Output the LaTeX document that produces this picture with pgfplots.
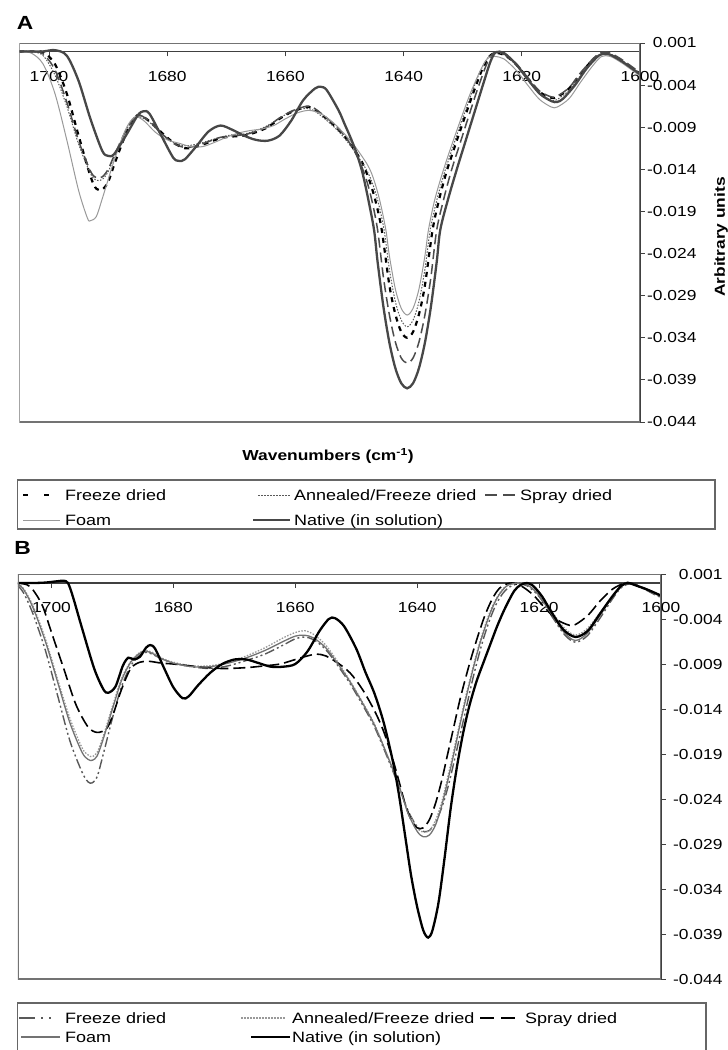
\documentclass[border=0pt]{standalone}
\usepackage{fontspec}
\setmainfont[FakeStretch=1.2]{Liberation Sans}
\usepackage{pgfplots}
\pgfplotsset{compat=1.18}
\tikzset{
 aFD/.style={black, line width=2.2pt, dash pattern=on 5pt off 5pt},
 aAN/.style={black!65, line width=1pt, dash pattern=on 1.5pt off 1.5pt},
 aSD/.style={black!70, line width=1.5pt, dash pattern=on 10pt off 5pt},
 aFO/.style={black!40, line width=1pt},
 aNA/.style={black!72, line width=2.3pt},
 bFD/.style={black!65, line width=1.4pt, dash pattern=on 10pt off 3pt on 2pt off 3pt on 2pt off 3pt},
 bAN/.style={black!40, line width=1.3pt, dash pattern=on 1.5pt off 1.5pt},
 bSD/.style={black, line width=1.6pt, dash pattern=on 12pt off 5pt},
 bFO/.style={black!55, line width=1.3pt},
 bNA/.style={black, line width=2.3pt},
 lgtext/.style={anchor=base west, inner sep=0pt, yshift=-5.3pt, font=\fontsize{15}{17}\selectfont},
}
\pgfplotsset{
 panel/.style={
   scale only axis, x dir=reverse,
   ymin=-0.044, ymax=0.001,
   axis x line*=middle, axis y line*=right,
   axis line style={black!75, line width=1.2pt},
   ytick={-0.044,-0.039,-0.034,-0.029,-0.024,-0.019,-0.014,-0.009,-0.004,0.001},
   xtick={1600,1620,1640,1660,1680,1700},
   scaled y ticks=false, scaled x ticks=false,
   hide obscured x ticks=false,
   /pgf/number format/assume math mode=true,
   /pgf/number format/1000 sep={},
   tick style={black!75, line width=1pt},
   major tick length=5pt,
   ytick align=outside,
   xtick align=outside,
   tick label style={font=\fontsize{14.5}{16}\selectfont, black},
   yticklabel style={/pgf/number format/fixed, /pgf/number format/fixed zerofill, /pgf/number format/precision=3},
   xticklabel style={yshift=-11pt},
   clip=true,
   every axis plot/.append style={smooth, tension=0.5},
 }
}
\begin{document}
\begin{tikzpicture}
\path[use as bounding box] (0pt,0pt) rectangle (728pt,-1050pt);

% ---------------- Panel A ----------------
\node[font=\fontsize{19}{21}\selectfont\bfseries] at (25pt,-22.5pt) {A};
\begin{axis}[panel, at={(329.75pt,-232.5pt)}, anchor=center,
   width=620.5pt, height=379pt, xmin=1600, xmax=1705,
   yticklabel style={anchor=east, xshift=55pt}]
% Freeze dried
\addplot[aFD] coordinates {(1705,0) (1703,0) (1701,-0.0001) (1699,-0.0015) (1697,-0.0050) (1695,-0.0100) (1693,-0.0148) (1692,-0.0163) (1691,-0.0164) (1690,-0.0155) (1689,-0.0135) (1687,-0.0098) (1685.5,-0.0078) (1684.5,-0.0076) (1683,-0.0083) (1681,-0.0096) (1679,-0.0108) (1677,-0.0115) (1675,-0.0113) (1673,-0.0108) (1671,-0.0103) (1669,-0.0101) (1667,-0.0100) (1665,-0.0096) (1663,-0.0090) (1661,-0.0080) (1659,-0.0072) (1657,-0.0067) (1656,-0.0066) (1655,-0.0069) (1653,-0.0080) (1651,-0.0093) (1649,-0.0110) (1647,-0.0132) (1645.7,-0.0155) (1644.7,-0.0179) (1643.7,-0.0212) (1642.4,-0.0278) (1641.4,-0.0312) (1640.4,-0.0333) (1639.4,-0.0340) (1638.4,-0.0333) (1637.4,-0.0312) (1636.4,-0.0278) (1635.1,-0.0212) (1634,-0.0176) (1632.7,-0.0142) (1631.2,-0.0110) (1629.7,-0.0079) (1628.2,-0.0049) (1626.8,-0.0023) (1625.5,-0.0006) (1624.5,-0.0002) (1623,-0.0004) (1621,-0.0015) (1619,-0.0032) (1617,-0.0048) (1615,-0.0055) (1614,-0.0054) (1612,-0.0044) (1610,-0.0026) (1608,-0.0010) (1606.5,-0.0003) (1605,-0.0004) (1603,-0.0012) (1601,-0.0022) (1600,-0.0026)};
% Annealed/Freeze dried
\addplot[aAN] coordinates {(1705,0) (1703,0) (1701,-0.0005) (1699,-0.0028) (1697,-0.0065) (1695,-0.0110) (1693,-0.0145) (1692,-0.0153) (1691,-0.0152) (1690,-0.0143) (1689,-0.0126) (1687,-0.0094) (1685.5,-0.0079) (1684.5,-0.0078) (1683,-0.0084) (1681,-0.0098) (1679,-0.0108) (1677,-0.0112) (1675,-0.0110) (1673,-0.0106) (1671,-0.0102) (1669,-0.0099) (1667,-0.0098) (1665,-0.0094) (1663,-0.0088) (1661,-0.0079) (1659,-0.0072) (1657,-0.0068) (1656,-0.0068) (1655,-0.0071) (1653,-0.0082) (1651,-0.0095) (1649,-0.0112) (1646.5,-0.0138) (1645.3,-0.0156) (1644.3,-0.0179) (1643.3,-0.0212) (1642.4,-0.0259) (1641.4,-0.0297) (1640.4,-0.0319) (1639.4,-0.0327) (1638.4,-0.0319) (1637.4,-0.0297) (1636.4,-0.0259) (1635.5,-0.0212) (1634.4,-0.0177) (1633.1,-0.0144) (1631.6,-0.0112) (1630.1,-0.0081) (1628.6,-0.0052) (1627.2,-0.0026) (1625.8,-0.0008) (1624.6,-0.0002) (1623,-0.0004) (1621,-0.0016) (1619,-0.0034) (1617,-0.0050) (1615,-0.0058) (1614,-0.0057) (1612,-0.0046) (1610,-0.0028) (1608,-0.0011) (1606.5,-0.0003) (1605,-0.0004) (1603,-0.0012) (1601,-0.0022) (1600,-0.0026)};
% Spray dried
\addplot[aSD] coordinates {(1705,0) (1703,0) (1701,-0.0003) (1699,-0.0022) (1697,-0.0060) (1695,-0.0106) (1693,-0.0142) (1692,-0.0150) (1691,-0.0149) (1690,-0.0140) (1689,-0.0124) (1687,-0.0094) (1685.5,-0.0078) (1684.5,-0.0076) (1683,-0.0083) (1681,-0.0097) (1679,-0.0109) (1677,-0.0114) (1675,-0.0112) (1673,-0.0107) (1671,-0.0102) (1669,-0.0100) (1667,-0.0099) (1665,-0.0095) (1663,-0.0089) (1661,-0.0079) (1659,-0.0071) (1657,-0.0066) (1656,-0.0065) (1655,-0.0068) (1653,-0.0079) (1651,-0.0092) (1649,-0.0110) (1647.5,-0.0130) (1646.4,-0.0150) (1645.4,-0.0176) (1644.4,-0.0212) (1643.4,-0.0269) (1642.4,-0.0313) (1641.4,-0.0345) (1640.4,-0.0364) (1639.4,-0.0370) (1638.4,-0.0364) (1637.4,-0.0345) (1636.4,-0.0313) (1635.4,-0.0269) (1634.4,-0.0212) (1633.2,-0.0175) (1631.9,-0.0141) (1630.4,-0.0108) (1628.9,-0.0075) (1627.4,-0.0043) (1626,-0.0016) (1625,-0.0003) (1624,0) (1623,-0.0003) (1621,-0.0014) (1619,-0.0031) (1617,-0.0047) (1615,-0.0054) (1614,-0.0053) (1612,-0.0043) (1610,-0.0025) (1608,-0.0009) (1606.5,-0.0001) (1605,-0.0002) (1603,-0.0010) (1601,-0.0020) (1600,-0.0025)};
% Foam
\addplot[aFO] coordinates {(1705,0) (1703,-0.0002) (1701,-0.0015) (1699,-0.0050) (1697,-0.0105) (1695,-0.0165) (1693.5,-0.0198) (1693,-0.0201) (1692,-0.0196) (1691,-0.0175) (1689,-0.0130) (1687,-0.0092) (1685.5,-0.0078) (1684,-0.0082) (1682,-0.0096) (1680,-0.0105) (1678,-0.0109) (1676,-0.0113) (1674,-0.0113) (1672,-0.0108) (1670,-0.0102) (1668,-0.0097) (1666,-0.0094) (1664,-0.0092) (1662,-0.0088) (1660,-0.0080) (1658,-0.0073) (1656,-0.0070) (1654,-0.0074) (1652,-0.0084) (1650,-0.0098) (1648,-0.0115) (1646,-0.0136) (1645,-0.0153) (1644,-0.0178) (1643,-0.0212) (1642.4,-0.0243) (1641.4,-0.0282) (1640.4,-0.0305) (1639.4,-0.0313) (1638.4,-0.0305) (1637.4,-0.0282) (1636.4,-0.0243) (1635.8,-0.0212) (1634.8,-0.0178) (1633.5,-0.0146) (1632,-0.0114) (1630.5,-0.0084) (1629,-0.0055) (1627.5,-0.0030) (1626.3,-0.0013) (1625.5,-0.0007) (1624.5,-0.0006) (1623,-0.0009) (1621,-0.0022) (1619,-0.0040) (1617,-0.0057) (1615,-0.0066) (1614,-0.0066) (1612,-0.0056) (1610,-0.0036) (1608,-0.0017) (1606.5,-0.0006) (1605,-0.0006) (1603,-0.0014) (1601,-0.0024) (1600,-0.0029)};
% Native
\addplot[aNA] coordinates {(1705,0) (1703,0) (1701,0) (1699,0.00015) (1697,-0.0005) (1695,-0.0035) (1693,-0.0080) (1691,-0.0118) (1690,-0.0124) (1689,-0.0122) (1687,-0.0100) (1685,-0.0076) (1684,-0.0071) (1683,-0.0074) (1681,-0.0100) (1679,-0.0126) (1678,-0.0130) (1677,-0.0128) (1675,-0.0112) (1673,-0.0095) (1671,-0.0088) (1669,-0.0093) (1667,-0.0100) (1665,-0.0105) (1663,-0.0106) (1661,-0.0100) (1659,-0.0082) (1657,-0.0058) (1655,-0.0044) (1654,-0.0042) (1653,-0.0046) (1651,-0.0070) (1650,-0.0086) (1649,-0.0102) (1648,-0.0120) (1647,-0.0143) (1646,-0.0175) (1645,-0.0212) (1644.4,-0.0250) (1643.4,-0.0304) (1642.4,-0.0346) (1641.4,-0.0376) (1640.4,-0.0394) (1639.4,-0.0400) (1638.4,-0.0394) (1637.4,-0.0376) (1636.4,-0.0346) (1635.4,-0.0304) (1634.4,-0.0250) (1633.8,-0.0212) (1632.5,-0.0176) (1631,-0.0140) (1629.5,-0.0106) (1628,-0.0072) (1626.5,-0.0038) (1625.3,-0.0012) (1624.4,-0.0001) (1623,-0.0002) (1621,-0.0015) (1619,-0.0033) (1617,-0.0050) (1615,-0.0059) (1614,-0.0060) (1613,-0.0056) (1611,-0.0040) (1609,-0.0020) (1607,-0.0005) (1606,-0.0003) (1605,-0.0004) (1603,-0.0012) (1601,-0.0022) (1600,-0.0027)};
\draw[black!55, line width=1.4pt] (rel axis cs:0,0) rectangle (rel axis cs:1,1);
\end{axis}
\node[font=\fontsize{14.5}{16}\selectfont\bfseries] at (328pt,-456pt) {Wavenumbers (cm\textsuperscript{-1})};
\node[font=\fontsize{14.5}{16}\selectfont\bfseries, rotate=90] at (721pt,-237pt) {Arbitrary units};

% Legend A
\draw[black!60, line width=1.2pt] (17.5pt,-480pt) rectangle (715pt,-529pt);
\draw[aFD, dash pattern=on 5pt off 16pt] (23pt,-495pt) -- (49pt,-495pt);
\node[lgtext] at (65pt,-495pt) {Freeze dried};
\draw[aAN] (258pt,-495pt) -- (290pt,-495pt);
\node[lgtext] at (294pt,-495pt) {Annealed/Freeze dried};
\draw[aSD, dash pattern=on 12pt off 6pt] (485pt,-495pt) -- (515pt,-495pt);
\node[lgtext] at (520pt,-495pt) {Spray dried};
\draw[aFO] (23pt,-520pt) -- (60pt,-520pt);
\node[lgtext] at (65pt,-520pt) {Foam};
\draw[aNA] (253pt,-520pt) -- (290pt,-520pt);
\node[lgtext] at (294pt,-520pt) {Native (in solution)};

% ---------------- Panel B ----------------
\node[font=\fontsize{19}{21}\selectfont\bfseries] at (22.5pt,-548pt) {B};
\begin{axis}[panel, at={(339.5pt,-776.5pt)}, anchor=center,
   width=643pt, height=405pt, xmin=1600, xmax=1705.5,
   yticklabel style={anchor=east, xshift=60pt}]
% Freeze dried
\addplot[bFD] coordinates {(1705.5,-0.0003) (1704.5,-0.0012) (1703,-0.0035) (1701,-0.0075) (1699,-0.0125) (1697,-0.0175) (1695,-0.0210) (1694,-0.0221) (1693.3,-0.0222) (1692.5,-0.0215) (1691.5,-0.0190) (1690,-0.0150) (1688.5,-0.0115) (1687,-0.0092) (1685.5,-0.0080) (1684.5,-0.0077) (1683.5,-0.0079) (1682,-0.0084) (1680,-0.0089) (1677,-0.0093) (1674,-0.0095) (1671,-0.0092) (1668,-0.0086) (1665,-0.0079) (1662,-0.0069) (1660,-0.0062) (1658.5,-0.0060) (1657,-0.0063) (1655,-0.0074) (1653,-0.0092) (1651,-0.0112) (1649,-0.0135) (1647,-0.0160) (1645,-0.0192) (1643,-0.0226) (1641.5,-0.0253) (1640,-0.0271) (1639,-0.0276) (1638,-0.0275) (1637,-0.0266) (1636,-0.0250) (1635,-0.0228) (1634,-0.0200) (1633,-0.0170) (1632,-0.0140) (1631,-0.0110) (1630,-0.0083) (1629,-0.0059) (1628,-0.0039) (1627,-0.0023) (1626,-0.0012) (1625,-0.0005) (1623.5,-0.0001) (1622,-0.0003) (1620,-0.0015) (1618,-0.0036) (1616,-0.0056) (1614.5,-0.0065) (1613.5,-0.0065) (1612,-0.0058) (1610,-0.0039) (1608,-0.0018) (1606.5,-0.0005) (1605,-0.0001) (1603,-0.0006) (1601,-0.0013) (1600,-0.0016)};
% Annealed/Freeze dried
\addplot[bAN] coordinates {(1705.5,-0.0001) (1704.5,-0.0007) (1703,-0.0026) (1701,-0.0062) (1699,-0.0107) (1697,-0.0150) (1695,-0.0183) (1694,-0.0191) (1693.3,-0.0193) (1692.5,-0.0188) (1691.5,-0.0170) (1690,-0.0137) (1688.5,-0.0106) (1687,-0.0087) (1685.5,-0.0077) (1684.5,-0.0075) (1683.5,-0.0077) (1682,-0.0083) (1680,-0.0088) (1677,-0.0092) (1674,-0.0092) (1671,-0.0088) (1668,-0.0081) (1665,-0.0072) (1662,-0.0061) (1660,-0.0055) (1658.5,-0.0053) (1657,-0.0057) (1655,-0.0069) (1653,-0.0088) (1651,-0.0109) (1649,-0.0132) (1647,-0.0157) (1645,-0.0190) (1643,-0.0225) (1641.5,-0.0254) (1640,-0.0272) (1639,-0.0277) (1638,-0.0275) (1637,-0.0264) (1636,-0.0244) (1635,-0.0216) (1634,-0.0186) (1633,-0.0155) (1632,-0.0125) (1631,-0.0098) (1630,-0.0072) (1629,-0.0050) (1628,-0.0031) (1627,-0.0017) (1626,-0.0007) (1625,-0.0002) (1623,0) (1621.5,-0.0004) (1620,-0.0013) (1618,-0.0031) (1616,-0.0049) (1614.5,-0.0057) (1613.5,-0.0057) (1612,-0.0050) (1610,-0.0033) (1608,-0.0015) (1606.5,-0.0004) (1605.3,0) (1603,-0.0005) (1601,-0.0011) (1600,-0.0014)};
% Spray dried
\addplot[bSD] coordinates {(1705.5,0) (1704,-0.0002) (1703,-0.0008) (1701.5,-0.0025) (1700,-0.0055) (1698,-0.0095) (1696,-0.0135) (1694,-0.0160) (1692.5,-0.0166) (1691,-0.0162) (1690,-0.0148) (1688.5,-0.0118) (1687,-0.0095) (1685.5,-0.0088) (1684,-0.0087) (1682,-0.0089) (1680,-0.0090) (1676,-0.0093) (1672,-0.0095) (1668,-0.0094) (1665,-0.0092) (1662.5,-0.0090) (1660,-0.0085) (1658,-0.0081) (1656.5,-0.0079) (1655,-0.0081) (1653,-0.0089) (1651,-0.0100) (1649,-0.0118) (1647,-0.0142) (1645.5,-0.0165) (1644,-0.0196) (1643,-0.0220) (1642,-0.0245) (1641,-0.0263) (1640,-0.0272) (1639,-0.0272) (1638,-0.0263) (1637,-0.0245) (1636,-0.0220) (1635,-0.0190) (1634,-0.0160) (1633,-0.0130) (1632,-0.0104) (1631,-0.0080) (1630,-0.0058) (1629,-0.0038) (1628,-0.0022) (1627,-0.0010) (1626,-0.0003) (1624.5,0) (1623,-0.0003) (1621,-0.0013) (1619,-0.0028) (1617,-0.0041) (1615,-0.0047) (1614,-0.0046) (1612,-0.0036) (1610,-0.0020) (1608,-0.0007) (1606,0) (1605,0) (1603,-0.0005) (1601,-0.0011) (1600,-0.0014)};
% Foam
\addplot[bFO] coordinates {(1705.5,-0.0001) (1704.5,-0.0008) (1703,-0.0028) (1701,-0.0065) (1699,-0.0110) (1697,-0.0155) (1695,-0.0188) (1694,-0.0196) (1693.3,-0.0197) (1692.5,-0.0192) (1691.5,-0.0173) (1690,-0.0140) (1688.5,-0.0108) (1687,-0.0088) (1685.5,-0.0078) (1684.5,-0.0076) (1683.5,-0.0078) (1682,-0.0084) (1680,-0.0089) (1677,-0.0093) (1674,-0.0093) (1671,-0.0089) (1668,-0.0083) (1665,-0.0075) (1662,-0.0065) (1660,-0.0059) (1658.5,-0.0058) (1657,-0.0061) (1655,-0.0072) (1653,-0.0090) (1651,-0.0110) (1649,-0.0133) (1647,-0.0158) (1645,-0.0190) (1643,-0.0225) (1641.5,-0.0256) (1640,-0.0276) (1639,-0.0282) (1638,-0.0280) (1637,-0.0269) (1636,-0.0248) (1635,-0.0220) (1634,-0.0190) (1633,-0.0158) (1632,-0.0128) (1631,-0.0100) (1630,-0.0074) (1629,-0.0052) (1628,-0.0033) (1627,-0.0018) (1626,-0.0008) (1625,-0.0002) (1623,0) (1621.5,-0.0004) (1620,-0.0014) (1618,-0.0034) (1616,-0.0054) (1614.5,-0.0063) (1613.5,-0.0063) (1612,-0.0055) (1610,-0.0036) (1608,-0.0016) (1606.5,-0.0004) (1605.3,0) (1603,-0.0005) (1601,-0.0012) (1600,-0.0015)};
% Native
\addplot[bNA] coordinates {(1705.5,0) (1703,0) (1701,0.00005) (1699,0.0002) (1698,0.00025) (1697.3,0) (1696.5,-0.0015) (1695,-0.0050) (1693,-0.0095) (1691.5,-0.0118) (1690.7,-0.0122) (1689.5,-0.0115) (1688.3,-0.0092) (1687.4,-0.0083) (1686.5,-0.0085) (1685.5,-0.0082) (1684.5,-0.0072) (1683.8,-0.0069) (1683,-0.0073) (1681.5,-0.0095) (1680,-0.0116) (1678.5,-0.0128) (1677.5,-0.0126) (1676,-0.0114) (1674,-0.0100) (1672,-0.0090) (1670,-0.0085) (1668,-0.0085) (1666,-0.0089) (1664,-0.0093) (1662,-0.0093) (1660,-0.0090) (1658,-0.0076) (1656,-0.0053) (1654.5,-0.0040) (1653.5,-0.0039) (1652,-0.0048) (1650,-0.0073) (1648.5,-0.0099) (1647,-0.0123) (1645.5,-0.0155) (1644,-0.0198) (1643,-0.0235) (1642,-0.0280) (1641,-0.0325) (1640,-0.0360) (1639,-0.0386) (1638.2,-0.0394) (1637.5,-0.0386) (1636.5,-0.0355) (1635.5,-0.0305) (1634.5,-0.0250) (1633.5,-0.0205) (1632.5,-0.0168) (1631.5,-0.0138) (1630.3,-0.0110) (1629,-0.0086) (1628,-0.0068) (1627,-0.0050) (1626,-0.0034) (1625,-0.0020) (1624,-0.0008) (1623,-0.0002) (1622,0) (1621,-0.0003) (1619.5,-0.0015) (1618,-0.0032) (1616,-0.0052) (1614,-0.0060) (1612,-0.0053) (1610,-0.0034) (1608,-0.0015) (1606.5,-0.0003) (1605.4,0) (1604,-0.0003) (1602,-0.0008) (1600,-0.0014)};
\draw[black!55, line width=1.4pt] (rel axis cs:0,0) rectangle (rel axis cs:1,1);
\end{axis}

% Legend B
\draw[black!60, line width=1.2pt] (17.5pt,-1003pt) rectangle (706pt,-1053pt);
\draw[bFD, dash pattern=on 16pt off 6pt on 2pt off 6pt on 2pt off 20pt] (19pt,-1018pt) -- (60pt,-1018pt);
\node[lgtext] at (65pt,-1018pt) {Freeze dried};
\draw[bAN] (241pt,-1018pt) -- (285pt,-1018pt);
\node[lgtext] at (292pt,-1018pt) {Annealed/Freeze dried};
\draw[bSD, dash pattern=on 14pt off 7pt] (480pt,-1018pt) -- (518pt,-1018pt);
\node[lgtext] at (525pt,-1018pt) {Spray dried};
\draw[bFO] (21pt,-1037pt) -- (60pt,-1037pt);
\node[lgtext] at (65pt,-1037pt) {Foam};
\draw[bNA] (251pt,-1037pt) -- (290pt,-1037pt);
\node[lgtext] at (292pt,-1037pt) {Native (in solution)};
\end{tikzpicture}
\end{document}
